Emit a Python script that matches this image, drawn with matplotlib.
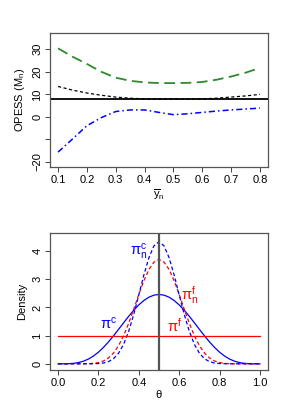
import matplotlib
matplotlib.use("Agg")
import matplotlib.pyplot as plt

plt.rcParams['font.family'] = ['Liberation Sans', 'DejaVu Sans']
plt.rcParams['mathtext.fontset'] = 'dejavusans'

# top panel: OPESS against ybar_n
ybar = [0.10, 0.15, 0.20, 0.25, 0.30, 0.35, 0.40, 0.45, 0.50, 0.55, 0.60, 0.65, 0.70, 0.75, 0.80]
upper = [30.4, 26.7, 23.5, 20.0, 17.4, 16.0, 15.3, 15.0, 15.0, 15.1, 15.5, 16.5, 17.9, 19.6, 21.7]
mid = [13.5, 11.9, 10.6, 9.6, 8.8, 8.3, 8.0, 7.9, 7.9, 7.9, 8.0, 8.3, 8.8, 9.3, 10.0]
lower = [-15.6, -9.8, -3.9, -0.3, 2.4, 3.1, 3.1, 2.0, 1.0, 1.4, 2.0, 2.6, 3.1, 3.5, 3.9]
ref_level = 8.0
top_yticks = [-20, -10, 0, 10, 20, 30]
top_ylabels = ['\u221220', '', '0', '10', '20', '30']
top_xticks = [0.1, 0.2, 0.3, 0.4, 0.5, 0.6, 0.7, 0.8]

# bottom panel: densities on theta grid
theta = [0.000, 0.025, 0.050, 0.075, 0.100, 0.125, 0.150, 0.175, 0.200, 0.225,
         0.250, 0.275, 0.300, 0.325, 0.350, 0.375, 0.400, 0.425, 0.450, 0.475,
         0.500, 0.525, 0.550, 0.575, 0.600, 0.625, 0.650, 0.675, 0.700, 0.725,
         0.750, 0.775, 0.800, 0.825, 0.850, 0.875, 0.900, 0.925, 0.950, 0.975, 1.000]
half_c = [0.0, 0.0002, 0.0032, 0.0146, 0.0413, 0.0902, 0.1665, 0.2737, 0.4129, 0.5825,
          0.7786, 0.9954, 1.2252, 1.4591, 1.6876, 1.9010, 2.0902, 2.2468, 2.3639, 2.4364]
half_nf = [0.0, 0.0, 0.0, 0.0, 0.0001, 0.0010, 0.0044, 0.0153, 0.0427, 0.1009,
           0.2084, 0.3851, 0.6472, 1.0016, 1.4409, 1.9406, 2.4600, 2.9471, 3.3463, 3.6087]
half_nc = [0.0, 0.0, 0.0, 0.0, 0.0, 0.0, 0.0004, 0.0020, 0.0084, 0.0280,
           0.0772, 0.1824, 0.3774, 0.6956, 1.1574, 1.7559, 2.4473, 3.1517, 3.7652, 4.1848]
pi_c = half_c + [2.4609] + half_c[::-1]
pi_nf = half_nf + [3.7001] + half_nf[::-1]
pi_nc = half_nc + [4.3340] + half_nc[::-1]
flat_x = [0.0, 1.0]
flat_y = [1.0, 1.0]
theta_mark = 0.5
bot_xticks = [0.0, 0.2, 0.4, 0.6, 0.8, 1.0]
bot_yticks = [0, 1, 2, 3, 4]

fig = plt.figure(figsize=(2.93, 4.03), dpi=100)
ax1 = fig.add_axes([0.1706, 0.5856, 0.7441, 0.3325])
ax2 = fig.add_axes([0.1706, 0.0819, 0.7441, 0.3391])

green = '#2E8B2E'
fs = 8

ax1.plot(ybar, upper, color=green, lw=1.3, dashes=(6, 3))
ax1.plot(ybar, mid, color='black', lw=0.9, dashes=(2.5, 2))
ax1.plot(ybar, lower, color='blue', lw=1.1, dashes=(4, 2, 1, 2))
ax1.axhline(ref_level, color='black', lw=1.3)
ax1.set_xlim(0.072, 0.828)
ax1.set_ylim(-22.2, 37.2)
ax1.set_xticks(top_xticks)
ax1.set_xticklabels([f'{v:.1f}' for v in top_xticks])
ax1.set_yticks(top_yticks)
ax1.set_yticklabels(top_ylabels, rotation=90, va='center')
ax1.set_xlabel(r'$\mathregular{\overline{y}_n}$', fontsize=fs, labelpad=2)
ax1.set_ylabel(r'OPESS (M$_\mathregular{n}$)', fontsize=fs, labelpad=4)

ax2.plot(theta, pi_c, color='blue', lw=0.9)
ax2.plot(theta, pi_nf, color='red', lw=0.9, dashes=(3, 2))
ax2.plot(theta, pi_nc, color='blue', lw=0.9, dashes=(3, 2))
ax2.plot(flat_x, flat_y, color='red', lw=0.9)
ax2.axvline(theta_mark, color='#555555', lw=1.6)
ax2.set_xlim(-0.04, 1.04)
ax2.set_ylim(-0.22, 4.63)
ax2.set_xticks(bot_xticks)
ax2.set_xticklabels([f'{v:.1f}' for v in bot_xticks])
ax2.set_yticks(bot_yticks)
ax2.set_yticklabels([str(v) for v in bot_yticks], rotation=90, va='center')
ax2.set_xlabel('\u03b8', fontsize=fs, labelpad=2)
ax2.set_ylabel('Density', fontsize=fs, labelpad=4)

lab = dict(fontsize=10.5, ha='center', va='center')
ax2.text(0.40, 3.95, '$\\mathregular{\u03c0_n^c}$', color='blue', **lab)
ax2.text(0.25, 1.42, '$\\mathregular{\u03c0^c}$', color='blue', **lab)
ax2.text(0.65, 2.45, '$\\mathregular{\u03c0_n^f}$', color='red', **lab)
ax2.text(0.575, 1.35, '$\\mathregular{\u03c0^f}$', color='red', **lab)

for ax in (ax1, ax2):
    ax.tick_params(labelsize=fs, length=3.5, width=0.7, color='#444444', pad=2)
    for s in ax.spines.values():
        s.set_color('#555555')
        s.set_linewidth(0.9)

fig.savefig('out.png', dpi=100)
